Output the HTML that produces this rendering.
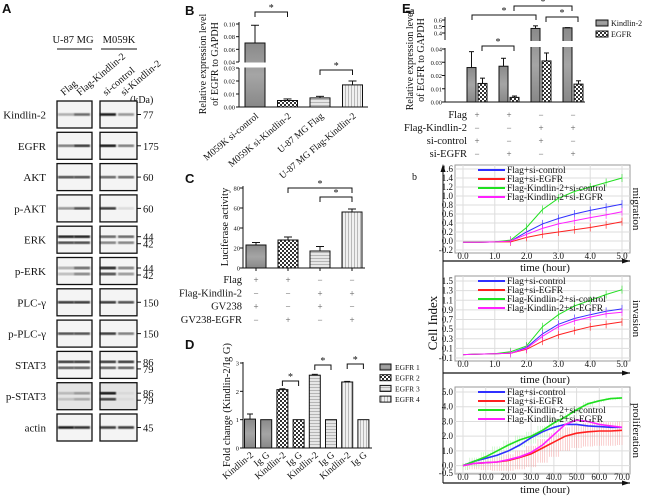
<!DOCTYPE html>
<html><head><meta charset="utf-8"><style>
html,body{margin:0;padding:0;background:#fff}
svg{display:block;font-family:"Liberation Serif",serif}
</style></head><body>
<svg id="fig" width="650" height="496" viewBox="0 0 650 496" xmlns="http://www.w3.org/2000/svg">
<defs>
<linearGradient id="gK" x1="0" y1="0" x2="0" y2="1"><stop offset="0" stop-color="#8a8a8a"/><stop offset="0.5" stop-color="#a5a5a5"/><stop offset="1" stop-color="#888"/></linearGradient>
<pattern id="pCheck" width="4" height="4" patternUnits="userSpaceOnUse"><rect width="4" height="4" fill="#fff"/><rect width="2" height="2" fill="#333"/><rect x="2" y="2" width="2" height="2" fill="#333"/></pattern>
<pattern id="pH" width="3" height="3" patternUnits="userSpaceOnUse"><rect width="3" height="3" fill="#e6e6e6"/><rect width="3" height="1" fill="#b5b5b5"/></pattern>
<pattern id="pV" width="3" height="3" patternUnits="userSpaceOnUse"><rect width="3" height="3" fill="#f0f0f0"/><rect width="1" height="3" fill="#b8b8b8"/></pattern>
<filter id="blur"><feGaussianBlur stdDeviation="0.8"/></filter>
</defs>
</svg>
<script>
// ---------- data ----------
const blotRows = ["Kindlin-2","EGFR","AKT","p-AKT","ERK","p-ERK","PLC-\u03b3","p-PLC-\u03b3","STAT3","p-STAT3","actin"];
const blotKda = [["77"],["175"],["60"],["60"],["44","42"],["44","42"],["150"],["150"],["86","79"],["86","79"],["45"]];
const blotIntensity = [[0.3,0.6,0.95,0.4],[0.5,0.8,0.95,0.5],[0.7,0.7,0.6,0.6],[0.4,0.7,0.8,0.1],[0.9,0.9,0.6,0.6],[0.3,0.6,0.9,0.5],[0.8,0.8,0.8,0.7],[0.7,0.7,0.8,0.5],[0.8,0.8,0.8,0.8],[0.2,0.35,0.95,0.05],[0.95,0.85,0.8,0.8]];
const bCats = ["M059K si-control","M059K si-Kindlin-2","U-87 MG Flag","U-87 MG Flag-Kindlin-2"];
const bVals = [0.070,0.005,0.007,0.017];
const bErr = [0.028,0.0012,0.0012,0.003];
const cVals = [23,28,17,56];
const cErr = [2.5,3,4.5,3];
const cRows = ["Flag","Flag-Kindlin-2","GV238","GV238-EGFR"];
const cSigns = [["+","+","\u2212","\u2212"],["\u2212","\u2212","+","+"],["+","\u2212","+","\u2212"],["\u2212","+","\u2212","+"]];
const dCats = ["Kindlin-2","Ig G","Kindlin-2","Ig G","Kindlin-2","Ig G","Kindlin-2","Ig G"];
const dVals = [1.02,1,2.06,1,2.57,1,2.33,1];
const dErr = [0.18,0,0.03,0,0.03,0,0.02,0];
const dLegend = ["EGFR 1","EGFR 2","EGFR 3","EGFR 4"];
const eKindlin = [0.026,0.027,0.47,0.48];
const eKindlinErr = [0.012,0.006,0.04,0.003];
const eEgfr = [0.014,0.0035,0.031,0.0135];
const eEgfrErr = [0.004,0.001,0.006,0.0025];
const eRows = ["Flag","Flag-Kindlin-2","si-control","si-EGFR"];
const eSigns = [["+","+","\u2212","\u2212"],["\u2212","\u2212","+","+"],["+","\u2212","+","\u2212"],["\u2212","+","\u2212","+"]];
const seriesNames = ["Flag+si-control","Flag+si-EGFR","Flag-Kindlin-2+si-control","Flag-Kindlin-2+si-EGFR"];
const migT = [0,0.5,1,1.5,2,2.5,3,3.5,4,4.5,5];
const migBlue = [-0.03,-0.03,-0.02,0.0,0.2,0.38,0.5,0.6,0.68,0.75,0.82];
const migRed = [-0.03,-0.03,-0.02,-0.02,0.08,0.15,0.2,0.25,0.3,0.36,0.43];
const migGreen = [-0.03,-0.03,-0.02,0.02,0.3,0.7,0.95,1.1,1.2,1.3,1.4];
const migMagenta = [-0.03,-0.03,-0.02,0.0,0.15,0.28,0.38,0.45,0.52,0.58,0.65];
const invBlue = [-0.03,-0.02,-0.01,0.0,0.12,0.4,0.6,0.72,0.8,0.87,0.92];
const invRed = [-0.03,-0.02,-0.01,0.0,0.08,0.25,0.38,0.47,0.55,0.6,0.65];
const invGreen = [-0.03,-0.02,-0.01,0.03,0.15,0.55,0.8,0.98,1.1,1.22,1.32];
const invMagenta = [-0.03,-0.02,-0.01,0.0,0.1,0.35,0.55,0.67,0.75,0.82,0.85];
const proT = [0,5,10,15,20,25,30,35,40,45,50,55,60,65,70];
const proBlue = [0,0.3,0.5,0.7,1.0,1.4,1.9,2.3,2.6,2.8,2.8,2.7,2.65,2.6,2.6];
const proRed = [0,0.15,0.2,0.25,0.35,0.55,0.8,1.2,1.6,2.0,2.2,2.3,2.35,2.35,2.4];
const proGreen = [0,0.3,0.6,1.0,1.4,1.75,2.0,2.4,2.9,3.3,3.8,4.2,4.4,4.55,4.6];
const proMagenta = [0,0.15,0.2,0.25,0.4,0.6,0.9,1.4,2.1,2.8,3.1,3.0,2.8,2.7,2.6];
const colors = ["#3030ff","#ff2020","#20e020","#ff20ff"];

const NS="http://www.w3.org/2000/svg";
const svg=document.getElementById('fig');
function mk(tag,attrs,name,parent){
  const el=document.createElementNS(NS,tag);
  for(const k in attrs) el.setAttribute(k,attrs[k]);
  
  
  (parent||svg).appendChild(el);
  return el;
}
function txt(x,y,s,name,o){
  o=o||{};
  const a={x:x,y:y,'font-size':o.fs||11,'text-anchor':o.anchor||'start',fill:o.fill||'#111'};
  if(o.rot!==undefined) a.transform='rotate('+o.rot+' '+x+' '+y+')';
  if(o.font) a['font-family']=o.font;
  if(o.bold) a['font-weight']='bold';
  const t=mk('text',a,name,o.parent);
  t.textContent=s; return t;
}
function line(x1,y1,x2,y2,name,o){o=o||{};return mk('line',{x1:x1,y1:y1,x2:x2,y2:y2,stroke:o.stroke||'#111','stroke-width':o.w||1},name,o.parent);}
function bracket(x1,x2,y,name){
  mk('path',{d:'M'+x1+' '+(y+5)+'V'+y+'H'+x2+'V'+(y+5),fill:'none',stroke:'#111','stroke-width':1},name);
  txt((x1+x2)/2,y-1,'*',name+'-star',{fs:10,anchor:'middle'});
}
const sans='"Liberation Sans",sans-serif';

// ---------- Panel A ----------
txt(2,13,'A','panel-a-label',{font:sans,bold:true,fs:13});
txt(73,43,'U-87 MG','u87-header',{anchor:'middle',fs:10.5});
txt(119,43,'M059K','m059k-header',{anchor:'middle',fs:10.5});
line(57,49,92,49,'u87-underline');line(101,49,137,49,'m059k-underline');
const laneX=[66,82,108,126];
const laneNames=['Flag','Flag-Kindlin-2','si-control','si-Kindlin-2'];
laneNames.forEach((n,i)=>txt(laneX[i]-2,96,n,'lane-label-'+i,{rot:-40,fs:10}));
txt(130,103,'(kDa)','kda-label',{fs:10});
blotRows.forEach((r,i)=>{
  const y=101+i*31.3, h=27;
  txt(46,y+h/2+4,r,'blot-label-'+r,{anchor:'end',fs:11});
  [[57,92],[100,137]].forEach((bx,j)=>{
    mk('rect',{x:bx[0],y:y,width:bx[1]-bx[0],height:h,fill:i==9?'#e4e4e4':'#f4f4f4',stroke:'#111','stroke-width':1.3},'blot-box-'+i+'-'+j);
    const two=blotKda[i].length>1;
    [0,1].forEach(k=>{
      const lane=j*2+k, inten=blotIntensity[i][lane];
      const lx=laneX[lane];
      const ys=two?[y+h/2-3,y+h/2+3]:[y+h/2];
      ys.forEach((yy,q)=>{
        const op=two&&q==1?inten*0.8:inten;
        mk('rect',{x:lx-8,y:yy-1.3,width:16,height:2.6,fill:'#000',opacity:op,filter:'url(#blur)'},'band');
      });
    });
  });
  blotKda[i].forEach((k,q)=>{
    const yy=blotKda[i].length>1?y+h/2-3+q*7:y+h/2;
    line(137,yy,141,yy,'kda-tick');
    txt(143,yy+4,k,'kda-'+k,{fs:10.5});
  });
});

// ---------- Panel B ----------
txt(185,15,'B','panel-b-label',{font:sans,bold:true,fs:13});
const bX=i=>255+i*32.5;
function yB(v){return v<=0.03?107-v/0.03*39:62-(v-0.04)/0.06*38;}
line(239,22,239,62,'b-y-axis-upper');line(239,68,239,107,'b-y-axis-lower');line(239,107,368,107,'b-x-axis');
[0.04,0.06,0.08,0.10].forEach(v=>{line(236,yB(v),239,yB(v),'b-ytick');txt(235,yB(v)+2.5,v.toFixed(2),'b-ytick-label',{anchor:'end',fs:6.5});});
[0,0.01,0.02,0.03].forEach(v=>{line(236,yB(v),239,yB(v),'b-ytick');txt(235,yB(v)+2.5,v.toFixed(2),'b-ytick-label',{anchor:'end',fs:6.5});});
const bFills=['url(#gK)','url(#pCheck)','url(#pH)','url(#pV)'];
bVals.forEach((v,i)=>{
  const x=bX(i)-10, top=yB(v);
  mk('rect',{x:x,y:top,width:20,height:107-top,fill:bFills[i],stroke:'#111','stroke-width':1},'b-bar-'+i);
  if(v>0.04) mk('rect',{x:x-1,y:62.5,width:22,height:5,fill:'#fff'},'b-axis-break');
  const et=yB(v+bErr[i]);
  line(bX(i),top,bX(i),et,'b-error');line(bX(i)-4,et,bX(i)+4,et,'b-error-cap');
  txt(bX(i)+4,117,bCats[i],'b-category-'+i,{anchor:'end',rot:-40,fs:9.5});
});
bracket(bX(0),bX(1),12,'b-sig-1');bracket(bX(2),bX(3),70,'b-sig-2');
txt(206,64,'Relative expression level','b-y-title-1',{anchor:'middle',rot:-90,fs:10});
txt(218,64,'of EGFR to GAPDH','b-y-title-2',{anchor:'middle',rot:-90,fs:10});

// ---------- Panel C ----------
txt(185,183,'C','panel-c-label',{font:sans,bold:true,fs:13});
const cX=i=>256+i*32;
const yC=v=>268-v/80*80;
line(243,186,243,268,'c-y-axis');line(243,268,365,268,'c-x-axis');
[0,20,40,60,80].forEach(v=>{line(240,yC(v),243,yC(v),'c-ytick');txt(240,yC(v)+2.5,String(v),'c-ytick-label',{anchor:'end',fs:6.5});});
cVals.forEach((v,i)=>{
  mk('rect',{x:cX(i)-10,y:yC(v),width:20,height:268-yC(v),fill:bFills[i],stroke:'#111','stroke-width':1},'c-bar-'+i);
  const et=yC(v+cErr[i]);line(cX(i),yC(v),cX(i),et,'c-error');line(cX(i)-4,et,cX(i)+4,et,'c-error-cap');
  line(cX(i),268,cX(i),271,'c-xtick');
});
bracket(cX(1),cX(3),188,'c-sig-1');bracket(cX(2),cX(3),197,'c-sig-2');
txt(228,227,'Luciferase activity','c-y-title',{anchor:'middle',rot:-90,fs:10.5});
cRows.forEach((r,j)=>{
  const y=283+j*13.3;
  txt(242,y,r,'c-row-'+r,{anchor:'end',fs:10.5});
  cSigns[j].forEach((s,i)=>txt(cX(i),y,s,'c-sign',{anchor:'middle',fs:9,fill:'#555'}));
});

// ---------- Panel D ----------
txt(185,349,'D','panel-d-label',{font:sans,bold:true,fs:13});
const dX=i=>250+i*16.2;
const yD=v=>448-v/3*85;
line(243,362,243,448,'d-y-axis');line(243,448,372,448,'d-x-axis');
[0,1,2,3].forEach(v=>{line(240,yD(v),243,yD(v),'d-ytick');txt(239,yD(v)+2.5,String(v),'d-ytick-label',{anchor:'end',fs:6.5});});
const dFills=['url(#gK)','url(#gK)','url(#pCheck)','url(#pCheck)','url(#pH)','url(#pH)','url(#pV)','url(#pV)'];
dVals.forEach((v,i)=>{
  mk('rect',{x:dX(i)-5.5,y:yD(v),width:11,height:448-yD(v),fill:dFills[i],stroke:'#111','stroke-width':1},'d-bar-'+i);
  if(dErr[i]>0){const et=yD(v+dErr[i]);line(dX(i),yD(v),dX(i),et,'d-error');line(dX(i)-3,et,dX(i)+3,et,'d-error-cap');}
  txt(dX(i)+4,456,dCats[i],'d-category-'+i,{anchor:'end',rot:-40,fs:9.5});
});
bracket(dX(2),dX(3),381,'d-sig-1');bracket(dX(4),dX(5),365,'d-sig-2');bracket(dX(6),dX(7),364,'d-sig-3');
txt(230,405,'Fold change (Kindlin-2/Ig G)','d-y-title',{anchor:'middle',rot:-90,fs:10.5});
dLegend.forEach((l,i)=>{
  const y=364+i*10.7;
  mk('rect',{x:380,y:y,width:11,height:6,fill:bFills[i],stroke:'#111','stroke-width':1},'d-legend-swatch-'+i);
  txt(395,y+6,l,'d-legend-'+i,{fs:7.5});
});

// ---------- Panel E a ----------
txt(402,13,'E','panel-e-label',{font:sans,bold:true,fs:13});
txt(410,14,'a','panel-ea-label',{fs:10});
function yE(v){return v<=0.04?102-v/0.04*53:33-(v-0.4)/0.2*13;}
line(445,17,445,40,'ea-y-axis-upper');line(445,48,445,102,'ea-y-axis-lower');line(445,102,585,102,'ea-x-axis');
[0.4,0.5,0.6].forEach(v=>{line(442,yE(v),445,yE(v),'ea-ytick');txt(442,yE(v)+2.5,String(v),'ea-ytick-label',{anchor:'end',fs:6.5});});
[0,0.01,0.02,0.03,0.04].forEach(v=>{line(442,yE(v),445,yE(v),'ea-ytick');txt(442,yE(v)+2.5,v.toFixed(2),'ea-ytick-label',{anchor:'end',fs:6.5});});
const eX=i=>477+i*32;
eKindlin.forEach((v,i)=>{
  const x=eX(i)-10,top=yE(v);
  mk('rect',{x:x,y:top,width:9,height:102-top,fill:'url(#gK)',stroke:'#111','stroke-width':1},'ea-kindlin-bar-'+i);
  if(v>0.04) mk('rect',{x:x-1,y:41,width:11,height:6,fill:'#fff'},'ea-axis-break');
  const et=yE(v+eKindlinErr[i]);line(x+4.5,top,x+4.5,et,'ea-error');line(x+2,et,x+7,et,'ea-error-cap');
  const v2=eEgfr[i],t2=yE(v2),x2=eX(i)+1;
  mk('rect',{x:x2,y:t2,width:9,height:102-t2,fill:'url(#pCheck)',stroke:'#111','stroke-width':1},'ea-egfr-bar-'+i);
  const e2=yE(v2+eEgfrErr[i]);line(x2+4.5,t2,x2+4.5,e2,'ea-error');line(x2+2,e2,x2+7,e2,'ea-error-cap');
});
bracket(eX(0)-5,eX(2)-5,15,'ea-sig-1');bracket(eX(1)+5,eX(3)-1,6,'ea-sig-2');
bracket(eX(0)+5,eX(1)+5,46,'ea-sig-3');bracket(eX(2)+5,eX(3)+5,17,'ea-sig-4');
txt(413,60,'Relative expression level','ea-y-title-1',{anchor:'middle',rot:-90,fs:10});
txt(424,60,'of EGFR to GAPDH','ea-y-title-2',{anchor:'middle',rot:-90,fs:10});
mk('rect',{x:596,y:20,width:12,height:6,fill:'url(#gK)',stroke:'#111'},'ea-legend-kindlin-swatch');
txt(611,26,'Kindlin-2','ea-legend-kindlin',{fs:8});
mk('rect',{x:596,y:31,width:12,height:6,fill:'url(#pCheck)',stroke:'#111'},'ea-legend-egfr-swatch');
txt(611,37,'EGFR','ea-legend-egfr',{fs:8});
eRows.forEach((r,j)=>{
  const y=118+j*13;
  txt(467,y,r,'ea-row-'+r,{anchor:'end',fs:10.5});
  eSigns[j].forEach((s,i)=>txt(eX(i),y,s,'ea-sign',{anchor:'middle',fs:9,fill:'#555'}));
});

// ---------- Panel E b ----------
txt(412,180,'b','panel-eb-label',{fs:10});
line(443,483,443,168,'eb-y-axis');mk('path',{d:'M440.5 172 L443 164 L445.5 172Z',fill:'#111'},'eb-y-arrow');
txt(437,323,'Cell Index','eb-y-title',{anchor:'middle',rot:-90,fs:13});
function timePlot(cfg){
  const {name,top,bot,yMin,yMax,yTicks,xMax,xTicks,arrowY,lbl,T,S,yTickTop,yTickBot}=cfg;
  const X0=463,X1=622;
  const xs=t=>X0+t/xMax*(X1-X0);
  const ys=v=>yTickBot-(v-yMin)/(yMax-yMin)*(yTickBot-yTickTop);
  mk('rect',{x:455,y:top,width:175,height:bot-top,fill:'#fff',stroke:'#999','stroke-width':1},name+'-plot-area');
  yTicks.forEach(v=>{line(455,ys(v),630,ys(v),name+'-gridline',{stroke:'#ddd'});txt(453,ys(v)+3,v.toFixed(1),name+'-ytick-label',{anchor:'end',fs:9});});
  xTicks.forEach(t=>{line(xs(t),top,xs(t),bot,name+'-vgridline',{stroke:'#ddd'});txt(xs(t),bot+6,t.toFixed(1),name+'-xtick-label',{anchor:'middle',fs:9});});
  line(443,arrowY,630,arrowY,name+'-x-axis',{w:1.3});
  mk('path',{d:'M622 '+(arrowY-2.5)+' L630 '+arrowY+' L622 '+(arrowY+2.5)+'Z',fill:'#111'},name+'-x-arrow');
  txt(545,arrowY+10,'time (hour)','x-axis-title-'+name,{anchor:'middle',fs:11});
  txt(633,(top+bot)/2,lbl,name+'-side-label',{anchor:'middle',rot:90,fs:11});
  if(name==='prolif'){
    S.forEach((ser,k)=>{ if(k===1||k===2){
      const sp=k===1?[0.3,0.4,0.5,0.6,0.7,0.8,0.9,1.0,1.0,1.0,1.0,1.0,1.0,1.0,1.0]:[0.3,0.4,0.5,0.5,0.5,0.5,0.5,0.5,0.5,0.4,0.3,0.2,0.1,0.1,0.1];
      ser.forEach((v,i)=>{ for(let d=-2;d<=2;d++){ const t=T[i]+d; if(t<0||t>xMax) continue;
        line(xs(t),ys(v-sp[i]),xs(t),ys(v+sp[i]*0.6),name+'-err-shade',{stroke:k===1?'#f4a0a0':'#b0f0b0',w:0.5}); }});
    }});
  }
  S.forEach((ser,k)=>{
    const pts=ser.map((v,i)=>xs(T[i]).toFixed(1)+','+ys(v).toFixed(1)).join(' ');
    mk('polyline',{points:pts,fill:'none',stroke:colors[k],'stroke-width':name=='prolif'?1.6:1},name+'-line-'+k);
    ser.forEach((v,i)=>{ if(i>=3 && name!=='prolif'){line(xs(T[i]),ys(v)-4,xs(T[i]),ys(v)+4,name+'-errbar',{stroke:colors[k],w:0.6});}});
  });
  seriesNames.forEach((s,k)=>{
    const ly=top+8+k*9;
    line(478,ly-3,505,ly-3,name+'-legend-line-'+k,{stroke:colors[k],w:2});
    txt(507,ly,s,name+'-legend-'+k,{fs:9.5});
  });
}
timePlot({name:'migration',top:165,bot:253,yMin:-0.2,yMax:1.6,yTickTop:169,yTickBot:250,yTicks:[-0.2,0,0.2,0.4,0.6,0.8,1.0,1.2,1.4,1.6],xMax:5,xTicks:[0,1,2,3,4,5],arrowY:261,lbl:'migration',T:migT,S:[migBlue,migRed,migGreen,migMagenta]});
timePlot({name:'invasion',top:276,bot:361,yMin:-0.1,yMax:1.5,yTickTop:281,yTickBot:358,yTicks:[-0.1,0.1,0.3,0.5,0.7,0.9,1.1,1.3,1.5],xMax:5,xTicks:[0,1,2,3,4,5],arrowY:373,lbl:'invasion',T:migT,S:[invBlue,invRed,invGreen,invMagenta]});
timePlot({name:'prolif',top:387,bot:474,yMin:-0.5,yMax:5,yTickTop:392,yTickBot:473,yTicks:[-0.5,0,1,2,3,4,5],xMax:70,xTicks:[0,10,20,30,40,50,60,70],arrowY:483,lbl:'proliferation',T:proT,S:[proBlue,proRed,proGreen,proMagenta]});
</script>
</body></html>
